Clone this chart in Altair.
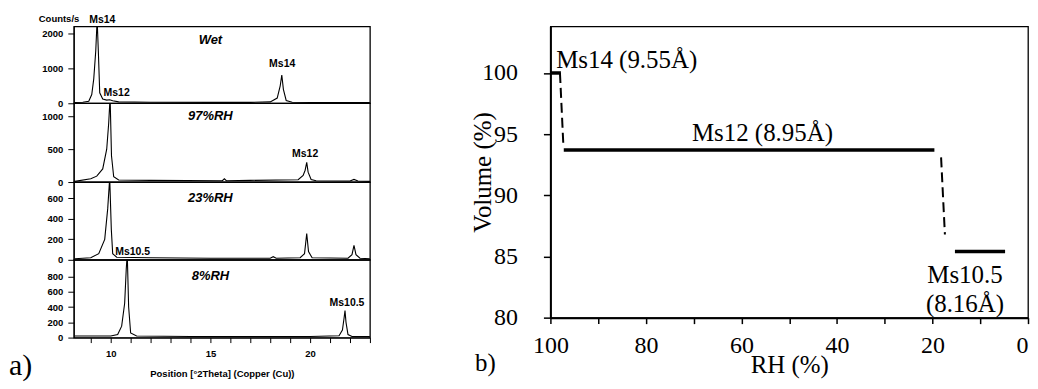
import altair as alt
import pandas as pd

# ---------------- a) XRD patterns ----------------
panel_names = ["Wet", "97%RH", "23%RH", "8%RH"]
panel_tops = [2200, 1200, 760, 1020]
panel_ticks = [[0, 1000, 2000], [0, 500, 1000], [0, 200, 400, 600], [0, 200, 400, 600, 800]]
panel_heights = [77, 79, 78, 78]
panel_label_y = [1800, 1000, 604, 810]

wet_theta = [8.2, 8.6, 8.9, 9.05, 9.15, 9.25, 9.32, 9.38, 9.45, 9.6, 9.8, 9.95, 10.1, 10.4, 12.0, 15.0, 17.0,
             18.0, 18.35, 18.5, 18.58, 18.66, 18.8, 19.1, 20.0, 23.0]
wet_counts = [20, 30, 60, 250, 700, 1500, 2400, 1500, 300, 120, 90, 100, 70, 40, 30, 25, 25,
              40, 150, 500, 810, 400, 80, 30, 20, 20]
rh97_theta = [8.2, 9.0, 9.3, 9.6, 9.8, 9.9, 9.97, 10.04, 10.15, 10.4, 12.0, 15.6, 15.7, 15.8, 17.0,
              19.4, 19.65, 19.75, 19.83, 19.9, 20.05, 20.3, 22.0, 22.2, 22.4, 23.0]
rh97_counts = [10, 50, 90, 200, 500, 900, 1300, 400, 80, 30, 25, 20, 50, 20, 25,
               35, 100, 180, 300, 150, 40, 20, 15, 40, 15, 10]
rh23_theta = [8.2, 9.0, 9.4, 9.7, 9.85, 9.95, 10.03, 10.1, 10.3, 12.0, 15.0, 18.0, 18.15, 18.3,
              19.5, 19.72, 19.83, 19.92, 20.1, 21.9, 22.1, 22.2, 22.3, 22.5, 23.0]
rh23_counts = [10, 20, 60, 200, 500, 800, 300, 60, 25, 20, 15, 15, 30, 15,
               20, 60, 257, 80, 20, 15, 50, 140, 50, 15, 10]
rh8_theta = [8.2, 10.0, 10.35, 10.55, 10.7, 10.78, 10.83, 10.9, 11.0, 11.3, 14.0, 17.0, 20.0,
             21.45, 21.62, 21.7, 21.75, 21.8, 21.9, 22.1, 23.0]
rh8_counts = [20, 20, 40, 150, 450, 900, 1100, 400, 60, 20, 15, 15, 15,
              25, 100, 250, 354, 200, 40, 15, 15]

peak_label_panel = ["Wet", "Wet", "Wet", "97%RH", "23%RH", "8%RH"]
peak_label_text = ["Ms14", "Ms12", "Ms14", "Ms12", "Ms10.5", "Ms10.5"]
peak_label_theta = [9.58, 10.3, 18.6, 19.75, 11.1, 21.85]
peak_label_counts = [2400, 286, 1115, 425, 78, 458]

thetas = [wet_theta, rh97_theta, rh23_theta, rh8_theta]
counts = [wet_counts, rh97_counts, rh23_counts, rh8_counts]

SANS = "Liberation Sans"
SERIF = "Liberation Serif"


def xrd_panel(i):
    name = panel_names[i]
    df = pd.DataFrame({"theta": thetas[i], "counts": counts[i]})
    xscale = alt.Scale(domain=[8.15, 23.0], nice=False, zero=False)
    yscale = alt.Scale(domain=[0, panel_tops[i]], nice=False)
    if i == 3:
        xaxis = alt.Axis(values=list(range(9, 24)),
                         labelExpr="datum.value % 5 == 0 ? datum.label : ''",
                         labelFont=SANS, labelFontSize=9.5, labelFontWeight="bold", labelFlush=False,
                         tickSize=5, labelPadding=6, domainColor="black", tickColor="black",
                         grid=False, title="Position [°2Theta] (Copper (Cu))",
                         titleFont=SANS, titleFontSize=9.5, titleFontWeight="bold",
                         titleY=39, titleBaseline="alphabetic", labelColor="black", titleColor="black")
    else:
        xaxis = None
    common = dict(values=panel_ticks[i], format="d", labelFont=SANS, labelFontSize=9.5, labelFontWeight="bold",
                  tickSize=6, labelPadding=5, domainColor="black", tickColor="black", grid=False,
                  labelColor="black")
    if i == 0:
        yaxis = alt.Axis(**common, title="Counts/s", titleAngle=0, titleAlign="right",
                         titleBaseline="bottom", titleX=5, titleY=-3, titleFont=SANS, titleFontSize=9.5,
                         titleFontWeight="bold", titleColor="black")
    else:
        yaxis = alt.Axis(**common, title=None)
    x_enc = alt.X("theta:Q", scale=xscale, axis=xaxis)
    y_enc = alt.Y("counts:Q", scale=yscale, axis=yaxis)

    line = alt.Chart(df).mark_line(clip=True, color="black", strokeWidth=1.1).encode(x=x_enc, y=y_enc)

    name_df = pd.DataFrame({"theta": [15.0], "counts": [panel_label_y[i]], "label": [name]})
    name_txt = alt.Chart(name_df).mark_text(font=SANS, fontSize=13, fontWeight="bold", fontStyle="italic",
                                            color="black").encode(x=x_enc, y=y_enc, text="label:N")

    pk = [(t, c, s) for p, s, t, c in zip(peak_label_panel, peak_label_text, peak_label_theta, peak_label_counts)
          if p == name]
    pk_df = pd.DataFrame({"theta": [p[0] for p in pk], "counts": [p[1] for p in pk], "label": [p[2] for p in pk]})
    pk_txt = alt.Chart(pk_df).mark_text(font=SANS, fontSize=10.5, fontWeight="bold", color="black").encode(
        x=x_enc, y=y_enc, text="label:N")

    layers = [line, name_txt, pk_txt]
    if i == 3:
        a_df = pd.DataFrame({"theta": [4.9], "counts": [-497], "label": ["a)"]})
        a_txt = alt.Chart(a_df).mark_text(font=SERIF, fontSize=30, align="left", baseline="alphabetic",
                                          color="black").encode(x=x_enc, y=y_enc, text="label:N")
        layers.append(a_txt)
    return alt.layer(*layers).properties(width=297, height=panel_heights[i])


left = alt.vconcat(*[xrd_panel(i) for i in range(4)], spacing=0, bounds="flush")

# ---------------- b) Volume vs RH ----------------
seg_label = ["Ms14", "Ms12", "Ms10.5"]
seg_rh_start = [100.0, 97.2, 15.3]
seg_rh_end = [97.8, 19.6, 4.8]
seg_volume = [100.0, 93.7, 85.4]

trans_rh_start = [98.0, 18.2]
trans_rh_end = [97.3, 17.4]
trans_vol_start = [100.0, 93.1]
trans_vol_end = [94.2, 86.8]

ann_text = ["Ms14 (9.55Å)", "Ms12 (8.95Å)", "Ms10.5", "(8.16Å)", "b)"]
ann_rh = [98.8, 55.6, 13.2, 13.2, 115.8]
ann_vol = [100.4, 94.4, 82.83, 80.5, 75.6]
ann_align = ["left", "center", "center", "center", "left"]

rx = alt.Scale(domain=[100, 0], nice=False, zero=False)
ry = alt.Scale(domain=[80, 103.8], nice=False, zero=False)
r_xaxis = alt.Axis(values=list(range(0, 101, 10)), labelExpr="datum.value % 20 == 0 ? datum.label : ''",
                   labelFont=SERIF, labelFontSize=24, labelColor="black", tickSize=6, labelPadding=10,
                   labelFlush=False,
                   labelAlign={"condition": {"test": "datum.value == 0", "value": "right"}, "value": "center"},
                   domainColor="black", domainWidth=2, tickColor="black", tickWidth=1.5, grid=False,
                   title="RH (%)", titleFont=SERIF, titleFontSize=25, titleFontWeight="normal",
                   titleColor="black", titleY=55, titleBaseline="alphabetic")
r_yaxis = alt.Axis(values=[80, 85, 90, 95, 100], labelFont=SERIF, labelFontSize=24, labelColor="black",
                   tickSize=7, labelPadding=26, labelFlush=False, domainColor="black", domainWidth=2,
                   tickColor="black", tickWidth=1.5, grid=False, title="Volume (%)", titleFont=SERIF,
                   titleFontSize=25, titleFontWeight="normal", titleColor="black", titleX=-68,
                   titleBaseline="middle")

seg_df = pd.DataFrame({"rh": seg_rh_start, "rh2": seg_rh_end, "vol": seg_volume, "phase": seg_label})
trans_df = pd.DataFrame({"rh": trans_rh_start, "rh2": trans_rh_end, "vol": trans_vol_start, "vol2": trans_vol_end})
ann_df = pd.DataFrame({"rh": ann_rh, "vol": ann_vol, "label": ann_text, "al": ann_align})

rxe = alt.X("rh:Q", scale=rx, axis=r_xaxis)
rye = alt.Y("vol:Q", scale=ry, axis=r_yaxis)

segs = alt.Chart(seg_df).mark_rule(color="black", strokeWidth=3.5).encode(x=rxe, x2="rh2:Q", y=rye)
trans = alt.Chart(trans_df).mark_rule(color="black", strokeWidth=2, strokeDash=[10, 5]).encode(
    x=rxe, x2="rh2:Q", y=rye, y2="vol2:Q")
ann_left = alt.Chart(ann_df).transform_filter("datum.al == 'left'").mark_text(
    font=SERIF, fontSize=25, align="left", baseline="alphabetic", color="black").encode(x=rxe, y=rye, text="label:N")
ann_center = alt.Chart(ann_df).transform_filter("datum.al == 'center'").mark_text(
    font=SERIF, fontSize=25, align="center", baseline="alphabetic", color="black").encode(x=rxe, y=rye, text="label:N")

right = alt.layer(segs, trans, ann_left, ann_center).properties(width=479, height=292)

chart = alt.hconcat(left, right, spacing=98).configure(
    padding={"left": 0, "top": 4, "right": 0, "bottom": 0}
).configure_view(stroke="black", strokeWidth=1.3)

chart.save("out.html", embed_options={"renderer": "svg", "actions": False})
